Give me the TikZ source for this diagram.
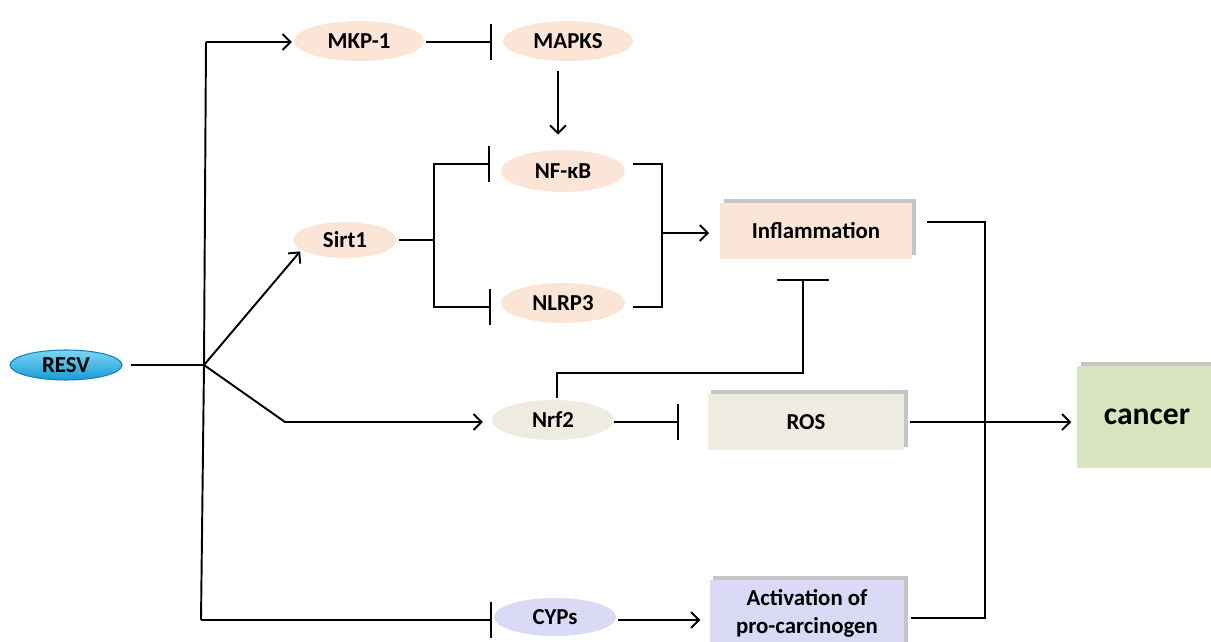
\documentclass[tikz,border=0pt]{standalone}
\usepackage{fontspec}
\setmainfont{Carlito}
\usetikzlibrary{arrows.meta,shapes.geometric,calc,shadows}
\definecolor{peach}{HTML}{FBE5D6}
\definecolor{greige}{HTML}{EEECE1}
\definecolor{lgreen}{HTML}{D7E4BD}
\definecolor{lav}{HTML}{DADAF6}
\definecolor{cyanA}{HTML}{7AD6F4}
\definecolor{cyanB}{HTML}{1A9BD6}
\definecolor{cyanC}{HTML}{1580B8}
\tikzset{
  lbl/.style={font=\fontsize{13}{15}\selectfont\bfseries, text=black},
  oval/.style={ellipse, lbl, inner sep=0pt, draw=none},
  bevel/.style={rectangle, lbl, inner sep=0pt, draw=none,
    drop shadow={shadow xshift=2pt, shadow yshift=2pt, fill=black!50, opacity=0.45}},
  ln/.style={line width=1.1pt, black},
  act/.style={ln, -{Straight Barb[length=4.5pt,width=9pt,line width=1.1pt]}},
  inh/.style={ln, -{Bar[width=21pt,line width=1.1pt]}},
}
\begin{document}
\begin{tikzpicture}[x=0.02cm,y=-0.02cm]
\useasboundingbox (0,0) rectangle (1211,642);
\fill[white] (0,0) rectangle (1211,642);

% nodes
\node[oval, minimum width=2.24cm, minimum height=0.6cm, top color=cyanA, bottom color=cyanB, draw=cyanC, line width=0.6pt] (resv) at (66,365) {RESV};
\node[oval, fill=peach, minimum width=2.6cm, minimum height=0.8cm] (mkp) at (359,41) {MKP-1};
\node[oval, fill=peach, minimum width=2.6cm, minimum height=0.8cm] (mapks) at (568,41) {MAPKS};
\node[oval, fill=peach, minimum width=2.48cm, minimum height=0.84cm] (nfkb) at (563,171) {NF-κB};
\node[oval, fill=peach, minimum width=2.48cm, minimum height=0.8cm] (nlrp) at (563,303) {NLRP3};
\node[oval, fill=peach, minimum width=2.08cm, minimum height=0.72cm] (sirt) at (345,240) {Sirt1};
\node[oval, fill=greige, minimum width=2.44cm, minimum height=0.8cm] (nrf) at (553,420) {Nrf2};
\node[oval, fill=lav, minimum width=2.44cm, minimum height=0.76cm] (cyps) at (555,617) {CYPs};

\node[bevel, fill=peach, minimum width=3.84cm, minimum height=1.12cm] (infl) at (816,231) {Inflammation};
\node[bevel, fill=greige, minimum width=3.94cm, minimum height=1.14cm] (ros) at (806,422) {ROS};
\node[bevel, fill=lgreen, minimum width=2.8cm, minimum height=2.06cm, font=\fontsize{18}{20}\selectfont\bfseries] (cancer) at (1147,417) {cancer};
\node[bevel, fill=lav, minimum width=3.9cm, minimum height=1.5cm] (act) at (807,617) {};
\node[lbl, align=center, inner sep=0pt] (acttext) at ($(act.center)+(0,-4)$) {Activation of\\[1pt]pro-carcinogen};

% trunk
\coordinate (j) at (204,365);
\coordinate (jt) at (206,42);
\coordinate (jb) at (201,620);
\draw[ln, shorten <=5pt] (resv.east) -- (j);
\draw[ln] (jt) -- (j) -- (jb);
\draw[act, shorten >=1pt] (jt) -- (jt -| mkp.west);
\draw[act, shorten >=1pt] (j) -- (sirt.193);
\draw[act, shorten >=5pt] (j) -- (285,422) -- (nrf.west |- 0,422);
\draw[inh, shorten >=1pt] (jb) -- (jb -| cyps.west);

% top row
\draw[inh, shorten <=1pt, shorten >=6pt] (mkp.east |- jt) -- (mapks.west |- jt);
\coordinate (ma) at ($(mapks.south)+(-10,10)$);
\coordinate (mb) at ($(nfkb.north)+(-5,-15)$);
\draw[act] (ma) -- (ma |- mb);

% Sirt1 branch
\coordinate (sj) at (434,240);
\draw[ln, shorten <=1pt] (sirt.east) -- (sj);
\draw[inh] (sj) |- ($(nfkb.west)+(-11,-7)$);
\draw[inh] (sj) |- ($(nlrp.west)+(-10,4)$);

% right bracket to inflammation
\coordinate (rj) at (662,233);
\draw[ln] ($(nfkb.east)+(8,-7)$) -| (rj);
\draw[ln] ($(nlrp.east)+(8,4)$) -| (rj);
\draw[act, shorten >=6pt] (rj) -- (rj -| infl.west);

% Nrf2
\draw[inh, shorten >=16pt] (nrf.east |- ros.west) -- (ros.west);
\draw[ln, -{Bar[width=30pt,line width=1.1pt]}] ($(nrf.north)+(4,-2)$) -- ++(0,-25) -| ($(infl.south)+(-13,20)$);

% to cancer
\coordinate (kt) at (985,222);
\coordinate (kb) at (985,618);
\draw[ln] ($(infl.east |- kt)+(15,0)$) -- (kt) -- (kb) -- ($(act.east |- kb)+(6,0)$);
\draw[act, shorten <=3pt, shorten >=3pt] (ros.east) -- (ros.east -| cancer.west);

% CYPs
\draw[act, shorten <=1pt, shorten >=5pt] (cyps.east |- 0,620) -- (act.west |- 0,620);
\end{tikzpicture}
\end{document}
